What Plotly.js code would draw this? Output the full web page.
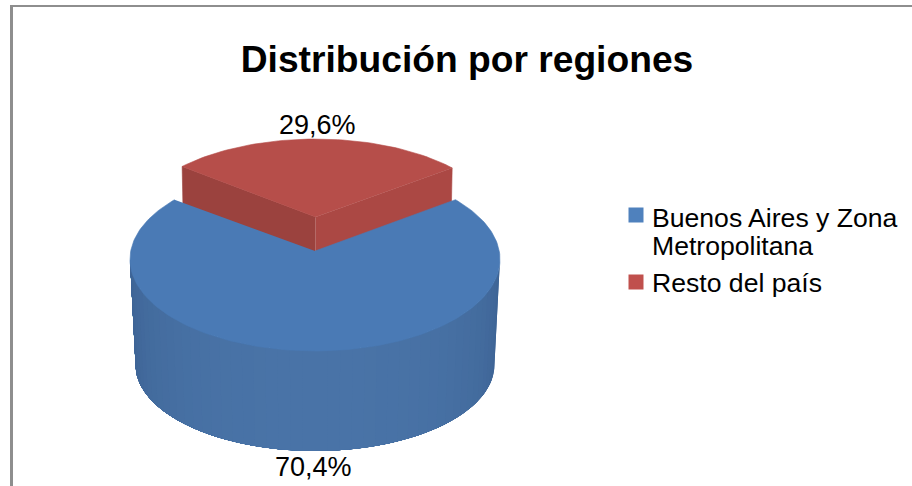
<!DOCTYPE html>
<html><head><meta charset="utf-8">
<script src="https://cdn.plot.ly/plotly-3.0.1.min.js"></script>
<style>html,body{margin:0;padding:0;background:#fff}</style></head>
<body><div id="chart" style="width:912px;height:486px"></div>
<script>
var categories = ["Buenos Aires y Zona Metropolitana", "Resto del país"];
var legendLines = [["Buenos Aires y Zona", "Metropolitana"], ["Resto del país"]];
var shares = [70.4, 29.6];
var chartTitle = "Distribución por regiones";

var W = 912, H = 486;
var C = {x: 315, y: 251, a: 183.6, b: 87.6, k: 0.1236};
var redLift = {dx: 0.7, dy: -34};
var blueFace = {dy: -3, sy: 1.03};
var wall = {dy: 103, scale: 0.97};
var sliceGap = 0.03;

function project(theta, o) {
  o = o || {};
  var s = o.scale || 1, sy = o.sy || 1, u = Math.sin(theta), v = Math.cos(theta), d = 1 + C.k * v;
  return [C.x + (o.dx || 0) + s * C.a * u / d, C.y + (o.dy || 0) - s * sy * C.b * v / d];
}
function arc(t0, t1, o, n) {
  var pts = [];
  for (var i = 0; i <= n; i++) pts.push(project(t0 + (t1 - t0) * i / n, o));
  return pts;
}
function poly(pts, color, name, lw) {
  return {type: "scatter", mode: "lines", x: pts.map(function (p) { return p[0]; }), y: pts.map(function (p) { return p[1]; }),
    fill: "toself", fillcolor: color, line: {color: color, width: lw === undefined ? 0.6 : lw}, hoverinfo: "name", name: name, showlegend: false};
}
var half = (shares[1] / 100) * Math.PI;
var traces = [];

// red slice: lifted wedge, walls partly hidden by the blue top face
var redTop = arc(-(half - sliceGap), half - 0.005, redLift, 60);
var apex = [C.x + redLift.dx, C.y + redLift.dy];
var L = redTop[0], R = redTop[redTop.length - 1];
traces.push(poly([apex, L, [L[0] + 1, L[1] + 50], [apex[0], apex[1] + 50]], "#9b423e", categories[1]));
traces.push(poly([apex, R, [R[0] - 1, R[1] + 50], [apex[0], apex[1] + 50]], "#ab4844", categories[1]));
traces.push(poly([apex].concat(redTop), "#b64e4a", categories[1]));

// blue wall: shaded strips, each running to the far silhouette point so no seams show
var N = 48, wallOpt = {dy: wall.dy, scale: wall.scale};
var sweep0 = Math.acos(-C.k), sweepEnd = 2 * Math.PI - sweep0, sweepLen = sweepEnd - sweep0;
for (var i = 0; i < N; i++) {
  var t0 = sweep0 + sweepLen * i / N, t1 = sweep0 + sweepLen * (i + 1) / N;
  var f = Math.abs((t0 + t1) / 2 - Math.PI) / (sweepLen / 2);
  var m = Math.pow(f, 2.2);
  var col = "rgb(" + Math.round(73 - 13 * m) + "," + Math.round(115 - 17 * m) + "," + Math.round(167 - 20 * m) + ")";
  var upper = arc(t0, sweepEnd, blueFace, 60), lower = arc(sweepEnd, t0, wallOpt, 60);
  traces.push(poly(upper.concat(lower), col, categories[0], 0));
}
// blue top face
traces.push(poly([[C.x, C.y]].concat(arc(half + sliceGap, 2 * Math.PI - half - sliceGap, blueFace, 180)), "#4a7ab5", categories[0]));

// legend swatches
traces.push({type: "scatter", mode: "markers", x: [636, 636], y: [215, 282], marker: {symbol: "square", size: 15, color: ["#4f81bd", "#c0504d"]},
  hoverinfo: "text", text: categories, showlegend: false});

var anns = [
  {x: 317, y: 125, text: shares[1].toFixed(1).replace(".", ",") + "%"},
  {x: 313, y: 467, text: shares[0].toFixed(1).replace(".", ",") + "%"}
].map(function (a) {
  return {x: a.x, y: a.y, text: a.text, showarrow: false, xanchor: "center", yanchor: "middle", font: {size: 27, color: "#000"}};
});
var legY = [[218, 246], [283]];
legendLines.forEach(function (lines, i) {
  lines.forEach(function (t, j) {
    anns.push({x: 650, y: legY[i][j], text: t, showarrow: false, xanchor: "left", yanchor: "middle", font: {size: 26.6, color: "#000"}});
  });
});

var layout = {
  width: W, height: H, margin: {l: 0, r: 0, t: 0, b: 0}, autosize: false, showlegend: false,
  paper_bgcolor: "#fff", plot_bgcolor: "rgba(0,0,0,0)",
  font: {family: "Liberation Sans, Arial, sans-serif", color: "#000"},
  title: {text: "<b>" + chartTitle + "</b>", font: {size: 37.2, color: "#000"}, x: 467 / W, xanchor: "center", y: 1 - 59 / H, yanchor: "middle"},
  xaxis: {range: [0, W], visible: false, fixedrange: true},
  yaxis: {range: [H, 0], visible: false, fixedrange: true},
  annotations: anns,
  shapes: [
    {type: "line", xref: "x", yref: "y", x0: 10, y0: 6, x1: W, y1: 6, line: {color: "#8e8e8e", width: 2}},
    {type: "line", xref: "x", yref: "y", x0: 11.5, y0: 5, x1: 11.5, y1: H, line: {color: "#8e8e8e", width: 3}}
  ]
};
Plotly.newPlot("chart", traces, layout, {displayModeBar: false, staticPlot: true});
</script></body></html>
